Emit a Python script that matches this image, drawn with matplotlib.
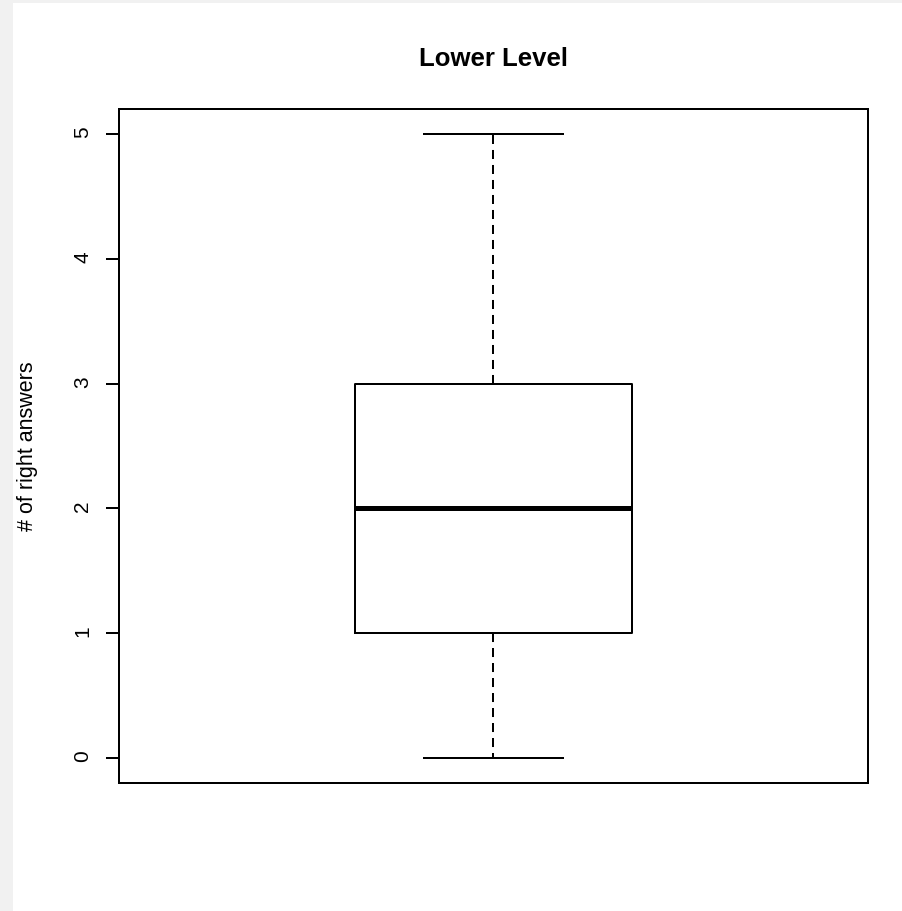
import matplotlib
matplotlib.use("Agg")
import matplotlib.pyplot as plt
from matplotlib.patches import Rectangle

# box statistics
group_names = ["Lower Level"]
whisker_low = [0]
quartile_1 = [1]
medians = [2]
quartile_3 = [3]
whisker_high = [5]
y_ticks = [0, 1, 2, 3, 4, 5]

plt.rcParams['font.family'] = ['Liberation Sans', 'DejaVu Sans']
plt.rcParams['lines.scale_dashes'] = False

fig = plt.figure(figsize=(9.03, 9.11), dpi=100, facecolor='#f1f1f1')
# white page with a thin grey strip on the left and at the top
fig.patches.append(Rectangle((13 / 903, 0), 1, 1 - 3 / 911, transform=fig.transFigure,
                             facecolor='white', edgecolor='none', zorder=-10))

ax = fig.add_axes([119 / 903, 1 - 783 / 911, 749 / 903, 674 / 911])
ax.set_facecolor('white')

stats = []
for i in range(len(group_names)):
    stats.append({
        'label': group_names[i],
        'whislo': whisker_low[i],
        'q1': quartile_1[i],
        'med': medians[i],
        'q3': quartile_3[i],
        'whishi': whisker_high[i],
        'fliers': [],
    })

lw = 1.44
ax.bxp(stats, positions=[1], widths=0.4, capwidths=0.2, showfliers=False,
       boxprops=dict(color='black', linewidth=lw),
       medianprops=dict(color='black', linewidth=3.6, solid_capstyle='butt'),
       whiskerprops=dict(color='black', linewidth=lw, linestyle=(0, (6.5, 4.3))),
       capprops=dict(color='black', linewidth=lw))

ax.set_xlim(0.46, 1.54)
ax.set_ylim(-0.2, 5.2)
ax.set_xticks([])
ax.set_yticks(y_ticks)
ax.set_yticklabels([str(t) for t in y_ticks])
ax.tick_params(axis='y', direction='out', length=9.4, width=lw, labelsize=15,
               labelrotation=90, pad=10)
for s in ax.spines.values():
    s.set_linewidth(lw)
    s.set_color('black')

ax.set_title("Lower Level", fontsize=18.5, fontweight='bold', pad=31)
fig.text(28 / 903, 1 - 446 / 911, "# of right answers", rotation=90,
         ha='center', va='center', fontsize=15.5)

fig.savefig("out.png", dpi=100, facecolor=fig.get_facecolor())
